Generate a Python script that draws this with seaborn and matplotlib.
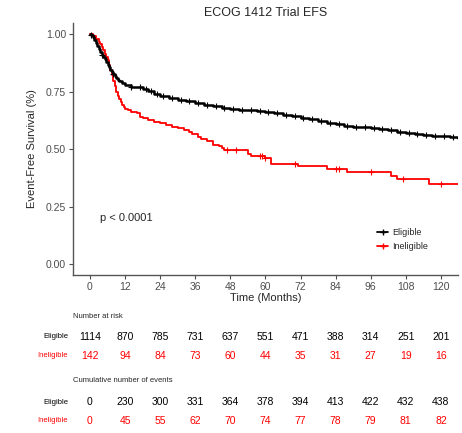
import numpy as np
import pandas as pd
import seaborn as sns
import matplotlib.pyplot as plt
from matplotlib import transforms
from matplotlib.lines import Line2D

# KM step data
elig_time = [0, 0.5, 1, 1.5, 2, 2.5, 3, 3.5, 4, 4.5, 5, 5.5, 6, 6.5, 7, 7.5, 8, 8.5, 9,
             9.5, 10, 11, 12, 14, 16, 18, 20, 22, 24, 27, 30, 33, 36,
             39, 42, 45, 48, 51, 54, 57, 60, 63, 66, 69, 72, 75, 78, 81, 84, 87, 90, 93,
             96, 99, 102, 105, 108, 111, 114, 117, 120, 123, 126]
elig_surv = [1.0, 0.995, 0.985, 0.975, 0.962, 0.95, 0.935, 0.922, 0.91, 0.9, 0.89, 0.88,
             0.866, 0.855, 0.845, 0.835, 0.825, 0.817, 0.81, 0.802, 0.795, 0.787, 0.78,
             0.772, 0.768, 0.762, 0.752, 0.74, 0.73, 0.722, 0.715, 0.707, 0.70, 0.693,
             0.686, 0.68, 0.675, 0.67, 0.668, 0.666, 0.662, 0.655, 0.648, 0.642, 0.636,
             0.63, 0.622, 0.615, 0.608, 0.602, 0.597, 0.595, 0.592, 0.588, 0.582, 0.575,
             0.569, 0.565, 0.562, 0.559, 0.556, 0.552, 0.549]
inel_time = [0, 1, 2, 3, 3.5, 4, 4.5, 5, 5.5, 6, 6.5, 7, 7.5, 8, 8.5, 9, 9.5, 10, 10.5, 11,
             11.5, 12, 13, 14, 16, 17, 18, 20, 22, 24, 26,
             28, 30, 32, 34, 35, 37, 38, 40, 42, 44, 45, 46, 54, 55, 60, 62, 71, 81, 88,
             103, 105, 116, 126]
inel_surv = [1.0, 0.993, 0.979, 0.965, 0.958, 0.944, 0.93, 0.915, 0.9, 0.887, 0.866, 0.845,
             0.82, 0.796, 0.775, 0.75, 0.733, 0.72, 0.705, 0.69, 0.683,
             0.676, 0.669, 0.662, 0.655, 0.641, 0.634, 0.627, 0.62, 0.613, 0.606, 0.598,
             0.59, 0.582, 0.574, 0.566, 0.552, 0.544, 0.536, 0.52, 0.512, 0.504, 0.496,
             0.48, 0.47, 0.46, 0.435, 0.427, 0.412, 0.399, 0.385, 0.37, 0.35, 0.35]

elig_cens = [0.5, 4, 8, 14, 17, 19, 21, 23, 25, 28, 31, 34, 37, 40, 43, 46, 49, 52, 55, 58,
             61, 64, 67, 70, 73, 76, 79, 82, 85, 88, 91, 94, 97, 100, 103, 106, 109, 112,
             115, 118, 121, 124]
inel_cens = [47, 50, 58, 59, 60, 70, 84, 85, 96, 107, 120]

ticks = [0, 12, 24, 36, 48, 60, 72, 84, 96, 108, 120]
risk_elig = [1114, 870, 785, 731, 637, 551, 471, 388, 314, 251, 201]
risk_inel = [142, 94, 84, 73, 60, 44, 35, 31, 27, 19, 16]
events_elig = [0, 230, 300, 331, 364, 378, 394, 413, 422, 432, 438]
events_inel = [0, 45, 55, 62, 70, 74, 77, 78, 79, 81, 82]

RED = "#ff0000"

sns.set_theme(style="white")
plt.rcParams["font.family"] = ["Liberation Sans", "DejaVu Sans"]

df = pd.concat([
    pd.DataFrame({"time": elig_time, "surv": elig_surv, "group": "Eligible"}),
    pd.DataFrame({"time": inel_time, "surv": inel_surv, "group": "Ineligible"}),
])

fig = plt.figure(figsize=(4.62, 4.33), dpi=100)
ax = fig.add_axes([0.158, 0.365, 0.833, 0.582])

sns.lineplot(data=df[df.group == "Ineligible"], x="time", y="surv", color=RED,
             drawstyle="steps-post", estimator=None, lw=1.3, ax=ax, legend=False)
sns.lineplot(data=df[df.group == "Eligible"], x="time", y="surv", color="black",
             drawstyle="steps-post", estimator=None, lw=1.8, ax=ax, legend=False)

# censor marks
for t_list, tt, ss, col in [(elig_cens, elig_time, elig_surv, "black"),
                            (inel_cens, inel_time, inel_surv, RED)]:
    idx = np.searchsorted(tt, t_list, side="right") - 1
    ax.plot(t_list, np.array(ss)[idx], ls="none", marker="+", ms=4, mew=0.8, color=col)

ax.set_xlim(-5.8, 125.8)
ax.set_ylim(-0.046, 1.048)
ax.set_xticks(ticks)
ax.set_yticks([0, 0.25, 0.5, 0.75, 1.0])
ax.set_yticklabels(["0.00", "0.25", "0.50", "0.75", "1.00"])
ax.tick_params(axis="both", labelsize=7.5, colors="#4d4d4d", length=3, width=0.8,
               bottom=True, left=True, direction="out", pad=2)
for s in ["top", "right"]:
    ax.spines[s].set_visible(False)
for s in ["left", "bottom"]:
    ax.spines[s].set_color("#555555")
    ax.spines[s].set_linewidth(1.0)

ax.set_xlabel("Time (Months)", fontsize=8, labelpad=1)
ax.set_ylabel("Event-Free Survival (%)", fontsize=8, labelpad=6)
ax.set_title("ECOG 1412 Trial EFS", fontsize=9, pad=5)

ax.text(3.4, 0.2, "p < 0.0001", fontsize=8, va="center")

handles = [Line2D([], [], color="black", marker="+", lw=1.3, ms=4),
           Line2D([], [], color=RED, marker="+", lw=1.3, ms=4)]
ax.legend(handles, ["Eligible", "Ineligible"], loc="center left",
          bbox_to_anchor=(0.77, 0.14), frameon=False, fontsize=6.5,
          handlelength=1.2, handletextpad=0.4, labelspacing=0.6)

# risk table
tr = transforms.blended_transform_factory(ax.transData, fig.transFigure)
H = 433.0
def fy(py):
    return 1 - py / H

fig.text(73 / 462, fy(316), "Number at risk", fontsize=5.5, va="center")
fig.text(73 / 462, fy(381), "Cumulative number of events", fontsize=5.5, va="center")
rows = [(336.5, risk_elig, "Eligible", "black"), (355.7, risk_inel, "Ineligible", RED),
        (402.3, events_elig, "Eligible", "black"), (421, events_inel, "Ineligible", RED)]
for py, vals, lab, col in rows:
    fig.text(68 / 462, fy(py), lab, fontsize=5.5, color=col, ha="right", va="center")
    for t, v in zip(ticks, vals):
        ax.text(t, fy(py), str(v), transform=tr, fontsize=7.5, color=col,
                ha="center", va="center")

plt.savefig("out.png", dpi=100)
plt.close()
